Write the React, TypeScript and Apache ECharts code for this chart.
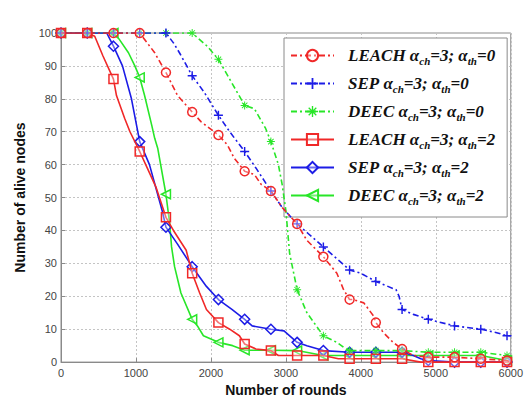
import React, { useEffect, useRef } from "react";
import * as echarts from "echarts";

// x ticks (rounds) and y ticks (alive nodes)
const X_TICKS = [0, 1000, 2000, 3000, 4000, 5000, 6000];
const Y_TICKS = [0, 10, 20, 30, 40, 50, 60, 70, 80, 90, 100];
const MARK_STEP = 350; // markers drawn every 350 rounds

const SERIES_NAMES = [
  "LEACH ach=3; ath=0",
  "SEP ach=3; ath=0",
  "DEEC ach=3; ath=0",
  "LEACH ach=3; ath=2",
  "SEP ach=3; ath=2",
  "DEEC ach=3; ath=2",
];
const PROTOCOLS = ["LEACH", "SEP", "DEEC", "LEACH", "SEP", "DEEC"];
const TH_VALUES = ["0", "0", "0", "2", "2", "2"];

const LEACH_TH0: number[][] = [
  [0, 100], [350, 100], [700, 100], [1050, 100], [1250, 94], [1400, 88], [1555, 81],
  [1750, 76], [1870, 73], [2100, 69], [2220, 66], [2310, 62], [2450, 58], [2580, 57],
  [2670, 54], [2800, 52], [2950, 47], [3150, 42], [3280, 37], [3500, 32], [3680, 27],
  [3770, 22], [3850, 19], [3900, 19], [4040, 18], [4170, 14], [4200, 12], [4300, 9],
  [4430, 6], [4550, 4], [4700, 2], [4900, 1.5], [5250, 1.5], [5600, 1], [5950, 0.5], [6000, 0],
];
const SEP_TH0: number[][] = [
  [0, 100], [350, 100], [700, 100], [1050, 100], [1400, 100], [1500, 97], [1580, 94],
  [1750, 87], [1910, 82], [2100, 75], [2250, 70], [2450, 64], [2600, 59], [2800, 52],
  [2950, 47], [3150, 42], [3300, 39], [3500, 35], [3650, 32], [3850, 28], [4000, 27],
  [4200, 24.5], [4470, 22], [4510, 20], [4550, 16], [4700, 14.5], [4900, 13],
  [5250, 11], [5600, 10], [5800, 9], [5950, 8], [6000, 8],
];
const DEEC_TH0: number[][] = [
  [0, 100], [350, 100], [700, 100], [1050, 100], [1400, 100], [1750, 100], [1850, 98],
  [1950, 96], [2100, 92], [2250, 86], [2450, 78], [2580, 77], [2730, 71], [2800, 67],
  [2900, 60], [2950, 54], [3000, 46], [3050, 33], [3150, 22], [3280, 15], [3500, 8],
  [3680, 6], [3800, 4], [3850, 3.5], [4200, 3.5], [4550, 3.5], [4900, 3], [5250, 3],
  [5600, 3], [5950, 2], [6000, 2],
];
const LEACH_TH2: number[][] = [
  [0, 100], [350, 100], [450, 99], [560, 93], [700, 86], [740, 81], [850, 74], [920, 70],
  [1050, 64], [1150, 59], [1270, 53], [1400, 44], [1500, 40], [1670, 34], [1750, 27],
  [1850, 21], [1940, 16], [2100, 12], [2250, 10], [2380, 8], [2450, 5.5], [2600, 4],
  [2800, 3.5], [2900, 2], [3150, 2], [3500, 2], [3700, 1], [3850, 1], [4200, 1],
  [4550, 1], [4800, 0], [4900, 0], [5250, 0], [5600, 0], [5950, 0], [6000, 0],
];
const SEP_TH2: number[][] = [
  [0, 100], [350, 100], [610, 100], [700, 96], [820, 90], [940, 80], [1050, 67],
  [1180, 60], [1350, 46], [1400, 41], [1550, 36], [1750, 29], [1940, 23], [2100, 19],
  [2280, 16], [2450, 13], [2550, 11], [2800, 10], [2975, 9.5], [3150, 6], [3280, 5],
  [3500, 3.5], [3850, 3], [4200, 3], [4550, 3], [4700, 2], [4800, 1], [4900, 0.5],
  [5250, 0], [5600, 0], [5950, 0], [6000, 0],
];
const DEEC_TH2: number[][] = [
  [0, 100], [350, 100], [700, 100], [780, 98], [900, 94], [985, 90], [1050, 86.5],
  [1115, 81], [1210, 72], [1250, 68], [1290, 65], [1400, 51], [1450, 42], [1475, 35],
  [1515, 29], [1600, 21], [1750, 13], [1820, 11], [1900, 8], [2100, 6], [2290, 5],
  [2450, 3.6], [2800, 3.6], [3150, 3.5], [3500, 2], [3850, 2], [4200, 2], [4550, 2],
  [4900, 2], [5250, 2], [5600, 2], [5950, 0.5], [6000, 0],
];

const SERIES_DATA = [LEACH_TH0, SEP_TH0, DEEC_TH0, LEACH_TH2, SEP_TH2, DEEC_TH2];

const RED = "#f02828";
const BLUE = "#1c1ce6";
const GREEN = "#28e628";
const COLORS = [RED, BLUE, GREEN, RED, BLUE, GREEN];
const DASH_DOT = [6, 3, 2, 3];

const PLUS = "path://M4.2,0h1.6v4.2h4.2v1.6h-4.2v4.2h-1.6v-4.2h-4.2v-1.6h4.2z";
const STAR =
  "path://M4.4,0h1.2v10h-1.2z M0,4.4h10v1.2h-10z M1.2,2l0.8-0.8l6.8,6.8l-0.8,0.8z M8,1.2l0.8,0.8l-6.8,6.8l-0.8-0.8z";
const SYMBOLS = ["circle", PLUS, STAR, "rect", "diamond", "triangle"];
const SYMBOL_SIZES = [9, 9, 8, 9, 10, 9];
const SYMBOL_ROTATE = [0, 0, 0, 0, 0, 90];
const HOLLOW = [true, false, false, true, true, true];

const LEGEND_FONT = {
  fontFamily: "Liberation Serif",
  fontWeight: "bold",
  fontStyle: "italic",
  color: "#111",
};

export default function App() {
  const ref = useRef<HTMLDivElement>(null);
  useEffect(() => {
    if (!ref.current) return;
    const chart = echarts.init(ref.current, null, { renderer: "svg" });
    const series = SERIES_NAMES.map((name, i) => ({
      name,
      type: "line",
      symbol: SYMBOLS[i],
      symbolSize: SYMBOL_SIZES[i],
      symbolRotate: SYMBOL_ROTATE[i],
      showAllSymbol: true,
      z: 10 - i,
      lineStyle: {
        color: COLORS[i],
        width: 1.6,
        type: i < 3 ? DASH_DOT : "solid",
      },
      itemStyle: HOLLOW[i]
        ? { color: "rgba(255,255,255,0.35)", borderColor: COLORS[i], borderWidth: 1.5 }
        : { color: COLORS[i], borderWidth: 0 },
      data: SERIES_DATA[i].map(([x, y]) =>
        x % MARK_STEP === 0 ? { value: [x, y] } : { value: [x, y], symbol: "none" }
      ),
    }));
    const option = {
      animation: false,
      backgroundColor: "#fff",
      grid: {
        left: 61,
        top: 33,
        right: 13,
        bottom: 38,
        show: true,
        borderColor: "#8a8a8a",
        borderWidth: 1,
        backgroundColor: "#fff",
      },
      legend: {
        orient: "vertical",
        left: 284,
        top: 38,
        itemWidth: 43,
        itemHeight: 14,
        itemGap: 9,
        padding: [9, 12, 11, 6],
        backgroundColor: "#fff",
        borderColor: "#8a8a8a",
        borderWidth: 1,
        borderRadius: 0,
        data: SERIES_NAMES,
        formatter: (name: string) => {
          const i = SERIES_NAMES.indexOf(name);
          return `{n|${PROTOCOLS[i]} }{a|α}{s|ch}{a|=3; α}{s|th}{a|=${TH_VALUES[i]}}`;
        },
        textStyle: {
          color: "#111",
          rich: {
            n: { ...LEGEND_FONT, fontSize: 17, lineHeight: 21, padding: [0, 0, 0, 9] },
            a: { ...LEGEND_FONT, fontSize: 17, lineHeight: 21 },
            s: { ...LEGEND_FONT, fontSize: 11, lineHeight: 10, verticalAlign: "bottom" },
          },
        },
      },
      xAxis: {
        type: "value",
        min: X_TICKS[0],
        max: X_TICKS[X_TICKS.length - 1],
        interval: X_TICKS[1] - X_TICKS[0],
        name: "Number of rounds",
        nameLocation: "middle",
        nameGap: 20,
        nameTextStyle: {
          fontFamily: "Liberation Sans",
          fontWeight: "bold",
          fontSize: 14,
          color: "#111",
        },
        axisLine: { show: true, lineStyle: { color: "#8a8a8a", width: 1 } },
        axisTick: { show: true, inside: true, length: 4, lineStyle: { color: "#8a8a8a" } },
        axisLabel: {
          fontFamily: "Liberation Sans",
          fontSize: 11,
          color: "#444",
          margin: 5,
          formatter: (v: number) => String(v),
        },
        splitLine: { show: true, lineStyle: { color: "#c4c4c4", type: [2, 2], width: 1 } },
      },
      yAxis: {
        type: "value",
        min: Y_TICKS[0],
        max: Y_TICKS[Y_TICKS.length - 1],
        interval: Y_TICKS[1] - Y_TICKS[0],
        name: "Number of alive nodes",
        nameLocation: "middle",
        nameGap: 34,
        nameTextStyle: {
          fontFamily: "Liberation Sans",
          fontWeight: "bold",
          fontSize: 14,
          color: "#111",
        },
        axisLine: { show: true, lineStyle: { color: "#8a8a8a", width: 1 } },
        axisTick: { show: true, inside: true, length: 4, lineStyle: { color: "#8a8a8a" } },
        axisLabel: {
          fontFamily: "Liberation Sans",
          fontSize: 11,
          color: "#444",
          margin: 4,
          formatter: (v: number) => String(v),
        },
        splitLine: { show: true, lineStyle: { color: "#c4c4c4", type: [2, 2], width: 1 } },
      },
      series,
    };
    chart.setOption(option as any);
    return () => chart.dispose();
  }, []);
  return <div ref={ref} style={{ width: 526, height: 402, position: "absolute", left: 0, top: 0 }} />;
}
